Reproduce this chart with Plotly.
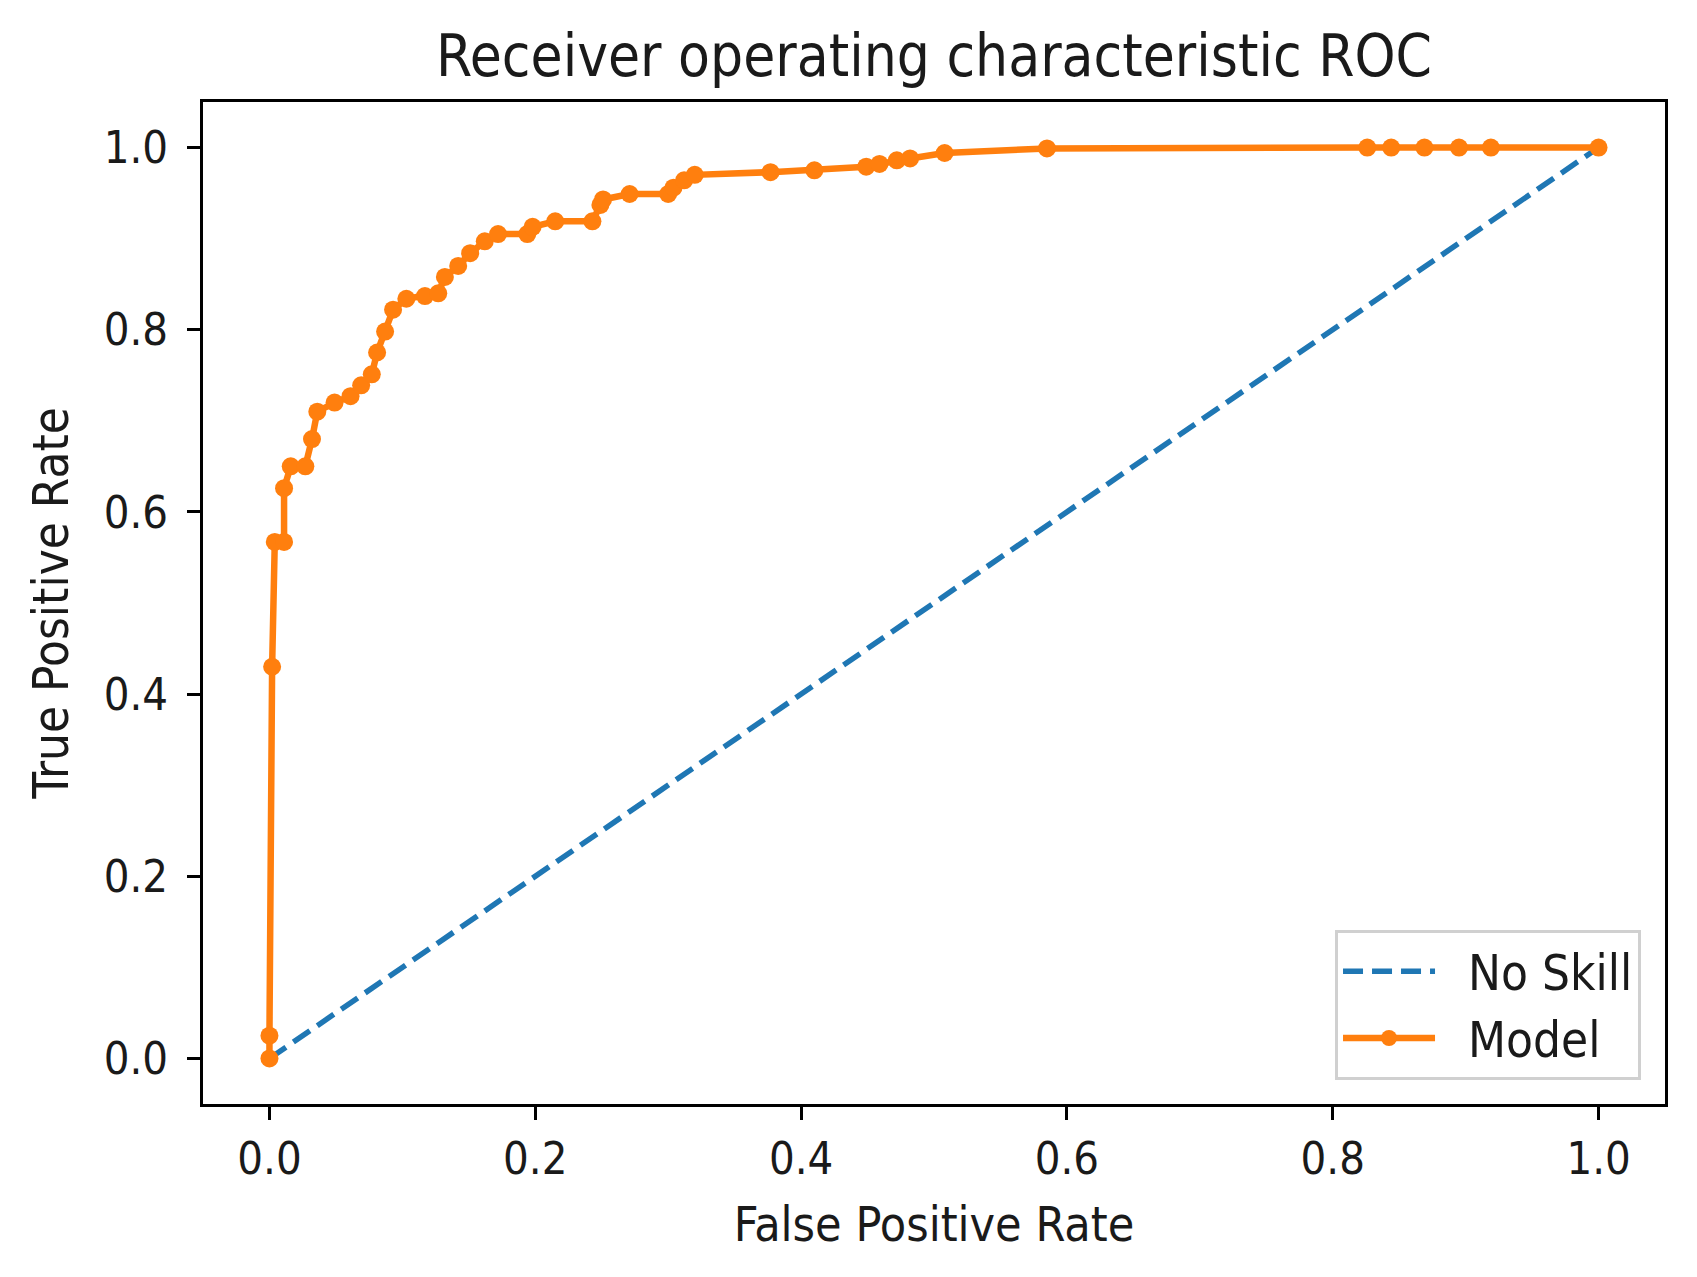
import plotly.graph_objects as go

# No Skill diagonal
ns_fpr = [0.0, 1.0]
ns_tpr = [0.0, 1.0]

# Model ROC curve
model_fpr = [0.0, 0.0, 0.002, 0.004, 0.011, 0.011, 0.016, 0.027, 0.032, 0.036, 0.049, 0.061,
             0.069, 0.077, 0.081, 0.087, 0.093, 0.103, 0.117, 0.127, 0.132, 0.142, 0.151,
             0.162, 0.172, 0.194, 0.198, 0.215, 0.243, 0.249, 0.251, 0.271, 0.300, 0.304,
             0.312, 0.320, 0.377, 0.410, 0.449, 0.459, 0.472, 0.482, 0.508, 0.585, 0.826,
             0.844, 0.869, 0.895, 0.919, 1.0]
model_tpr = [0.0, 0.025, 0.430, 0.567, 0.567, 0.626, 0.650, 0.650, 0.680, 0.710, 0.720, 0.727,
             0.739, 0.751, 0.775, 0.798, 0.822, 0.834, 0.837, 0.840, 0.858, 0.870, 0.884,
             0.897, 0.905, 0.905, 0.913, 0.919, 0.919, 0.937, 0.943, 0.949, 0.949, 0.956,
             0.964, 0.970, 0.973, 0.975, 0.979, 0.982, 0.986, 0.988, 0.994, 0.999, 1.0,
             1.0, 1.0, 1.0, 1.0, 1.0]

x_ticks = [0.0, 0.2, 0.4, 0.6, 0.8, 1.0]
y_ticks = [0.0, 0.2, 0.4, 0.6, 0.8, 1.0]

FONT = "DejaVu Sans Condensed, DejaVu Sans"
TXT = "#1a1a1a"
PAD = "\u00a0\u00a0"
fig = go.Figure()
fig.add_trace(go.Scatter(
    x=ns_fpr, y=ns_tpr, mode="lines", name=PAD + "No Skill",
    line=dict(color="#1f77b4", width=5.5, dash="20px,9px"),
))
fig.add_trace(go.Scatter(
    x=model_fpr, y=model_tpr, mode="lines+markers", name=PAD + "Model",
    line=dict(color="#ff7f0e", width=6.5),
    marker=dict(color="#ff7f0e", size=18),
))

axis_common = dict(
    showgrid=False, zeroline=False, showline=True, mirror=True,
    linecolor="black", linewidth=3, ticks="outside", ticklen=13, tickwidth=3,
    tickcolor="black", tickformat=".1f",
    tickfont=dict(family=FONT, size=45, color=TXT),
    range=[-0.05, 1.05],
)
fig.update_layout(
    width=1697, height=1277,
    margin=dict(l=195, r=40, t=94, b=181),
    paper_bgcolor="white", plot_bgcolor="white",
    title=dict(text="Receiver operating characteristic ROC", x=0.5, xref="paper", xanchor="center",
               y=0.963, yanchor="middle",
               font=dict(family=FONT, size=58, color=TXT)),
    xaxis=dict(axis_common, tickvals=x_ticks,
               title=dict(text="False Positive Rate", font=dict(family=FONT, size=48, color=TXT),
                          standoff=24)),
    yaxis=dict(axis_common, tickvals=y_ticks, ticklabelstandoff=10,
               title=dict(text="True Positive Rate", font=dict(family=FONT, size=49, color=TXT),
                          standoff=20)),
    legend=dict(x=0.9836, y=0.024, xanchor="right", yanchor="bottom",
                bordercolor="#d0d0d0", borderwidth=3, bgcolor="white",
                font=dict(family=FONT, size=49, color=TXT), itemwidth=92),
    showlegend=True,
)
fig.write_html("out.html")
